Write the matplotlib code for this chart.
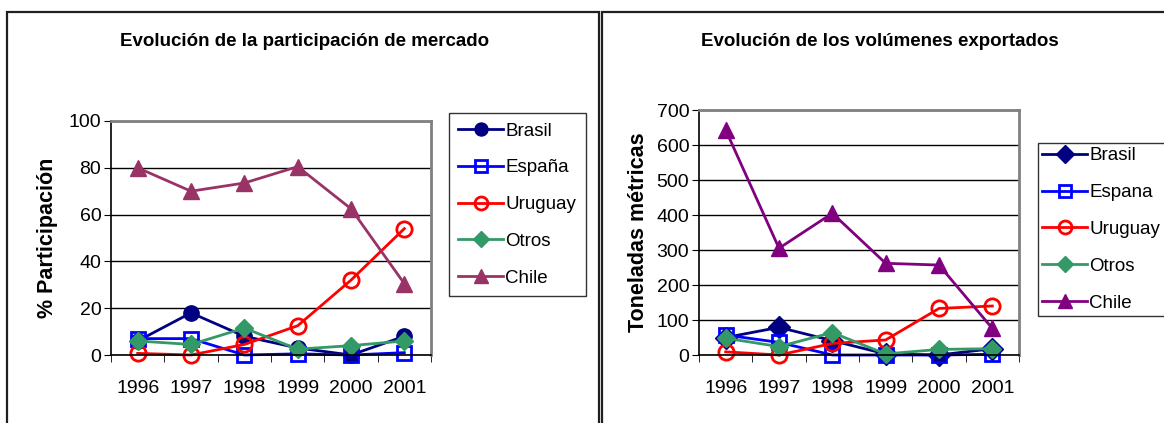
import matplotlib
matplotlib.use("Agg")
from matplotlib import pyplot as plt
from matplotlib.patches import Rectangle

# Data
YEARS = ["1996", "1997", "1998", "1999", "2000", "2001"]

SHARE_BRASIL = [6, 18, 8, 3, 0, 8]
SHARE_ESPANA = [7, 7, 0, 0.5, 0, 1]
SHARE_URUGUAY = [0.7, 0, 4.5, 12.5, 32, 54]
SHARE_OTROS = [6, 4.5, 11.5, 2.5, 4, 6]
SHARE_CHILE = [80, 70, 73.5, 80.5, 62.5, 30.5]

VOL_BRASIL = [50, 79, 41, 3, 0, 18]
VOL_ESPANA = [57, 36, 0, 0, 0, 2]
VOL_URUGUAY = [9, 0, 33, 43, 133, 140]
VOL_OTROS = [48, 24, 64, 3, 16, 18]
VOL_CHILE = [643, 305, 405, 262, 257, 76]

NAVY = "#000080"
BLUE = "#0000FF"
RED = "#FF0000"
GREEN = "#339966"
PLUM = "#993366"
PURPLE = "#800080"

W, H = 1164, 423
plt.rcParams["font.family"] = ["Liberation Sans", "DejaVu Sans"]

fig = plt.figure(figsize=(W / 100, H / 100), dpi=100)


def px_axes(x0, y0, x1, y1):
    """Axes from pixel box (top-left origin)."""
    return fig.add_axes([x0 / W, 1 - y1 / H, (x1 - x0) / W, (y1 - y0) / H])


# panel frames
fig.patches.append(Rectangle((7 / W, -0.1), (599 - 7) / W, 1.1 - 12 / H,
                             transform=fig.transFigure, fill=False,
                             edgecolor="#202020", lw=1.6))
fig.patches.append(Rectangle((602 / W, -0.1), 0.5, 1.1 - 12 / H,
                             transform=fig.transFigure, fill=False,
                             edgecolor="#202020", lw=1.6))


def draw(ax, series, ymax, ystep, ylabel, title_x, title, ylabel_x,
         legend_box, chile_color, brasil_marker, labels, tight_legend=False):
    x = list(range(len(YEARS)))
    styles = [
        dict(color=NAVY, marker=brasil_marker, mfc=NAVY, mec=NAVY, ms=11),
        dict(color=BLUE, marker="s", mfc="none", mec=BLUE, ms=10, mew=2),
        dict(color=RED, marker="o", mfc="none", mec=RED, ms=11, mew=2),
        dict(color=GREEN, marker="D", mfc=GREEN, mec=GREEN, ms=9),
        dict(color=chile_color, marker="^", mfc=chile_color,
             mec=chile_color, ms=12),
    ]
    for vals, st, lab in zip(series, styles, labels):
        ax.plot(x, vals, lw=2, label=lab, clip_on=False, **st)

    ax.set_xlim(-0.5, len(YEARS) - 0.5)
    ax.set_ylim(0, ymax)
    ax.set_yticks(range(0, ymax + 1, ystep))
    ax.yaxis.grid(True, color="black", lw=1)
    ax.set_axisbelow(True)
    ax.set_xticks(x)
    ax.set_xticklabels(YEARS)
    ax.set_xticks([i - 0.5 for i in range(len(YEARS) + 1)], minor=True)
    ax.tick_params(axis="x", which="major", length=0, pad=18, labelsize=14)
    ax.tick_params(axis="x", which="minor", length=5, direction="out")
    ax.tick_params(axis="y", length=5, direction="out", labelsize=14, pad=2)
    for s in ("top", "right"):
        ax.spines[s].set_color("#808080")
        ax.spines[s].set_linewidth(2)
    for s in ("left", "bottom"):
        ax.spines[s].set_linewidth(1.2)

    fig.text(title_x / W, 1 - 41 / H, title, ha="center", va="center",
             fontsize=13.5, fontweight="bold")
    fig.text(ylabel_x / W, ax.get_position().y0 + ax.get_position().height / 2,
             ylabel, rotation=90, ha="center", va="center",
             fontsize=15.5, fontweight="bold")

    x0, y0, x1, y1 = legend_box
    leg = ax.legend(loc="upper left",
                    bbox_to_anchor=(x0 / W, 1 - y1 / H, (x1 - x0) / W,
                                    (y1 - y0) / H),
                    bbox_transform=fig.transFigure,
                    mode="expand", fontsize=13.5, frameon=True,
                    fancybox=False, edgecolor="black", borderpad=0.5,
                    labelspacing=1.05, handlelength=2.4, handletextpad=0.1,
                    borderaxespad=0, markerscale=0.85)
    leg.get_frame().set_linewidth(1)
    if tight_legend:
        # legend runs off the panel edge; keep the longest label inside
        leg._legend_box.pad = 3


ax1 = px_axes(111, 121, 431, 355)
draw(ax1, [SHARE_BRASIL, SHARE_ESPANA, SHARE_URUGUAY, SHARE_OTROS,
           SHARE_CHILE],
     100, 20, "% Participación", 305, "Evolución de la participación de mercado",
     48, (449, 113, 586, 292), PLUM, "o",
     ["Brasil", "España", "Uruguay", "Otros", "Chile"])

ax2 = px_axes(699, 110, 1019, 355)
draw(ax2, [VOL_BRASIL, VOL_ESPANA, VOL_URUGUAY, VOL_OTROS, VOL_CHILE],
     700, 100, "Toneladas métricas", 880, "Evolución de los volúmenes exportados",
     638, (1038, 143, 1180, 322), PURPLE, "D",
     ["Brasil", "Espana", "Uruguay", "Otros", "Chile"], tight_legend=True)

fig.savefig("out.png", dpi=100)
